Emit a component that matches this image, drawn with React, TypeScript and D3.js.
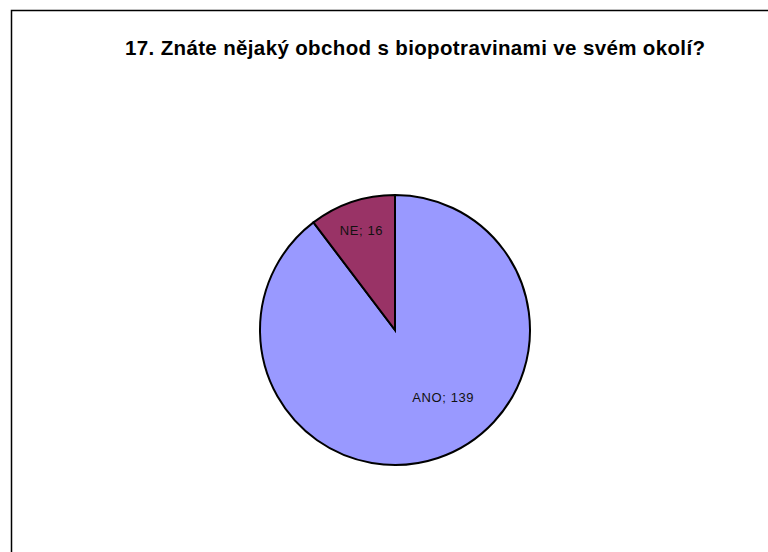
import React from "react";
import * as d3 from "d3";

const categories = ["ANO", "NE"];
const values = [139, 16];
const colors = ["#9999FF", "#993366"];
const title = "17. Znáte nějaký obchod s biopotravinami ve svém okolí?";

export default function App() {
  const W = 768, H = 552;
  const cx = 395, cy = 330, r = 135;
  const data = categories.map((c, i) => ({ c, v: values[i], col: colors[i] }));
  const pie = d3.pie<any>().value((d: any) => d.v).sort(null);
  const arcs = pie(data);
  const arc = d3.arc<any>().innerRadius(0).outerRadius(r);
  const labelRadius = [0.61, 0.78];
  const labelShift = [[22, -11], [0, 0]];
  return (
    <svg width={W} height={H} style={{ position: "absolute", left: 0, top: 0, background: "#fff" }}>
      <rect x={0} y={0} width={W} height={H} fill="#fff" />
      <path d={`M11.5,${H} L11.5,10.5 L${W},10.5`} fill="none" stroke="#000" strokeWidth={1.5} />
      <text x={125} y={55} fontFamily="Liberation Sans, Arial, sans-serif" fontWeight="bold" fontSize={20.5}
        textLength={580} lengthAdjust="spacing" fill="#000">{title}</text>
      <g transform={`translate(${cx},${cy})`}>
        {arcs.map((a, i) => (
          <path key={i} d={arc(a) as string} fill={a.data.col} stroke="#000" strokeWidth={2} />
        ))}
        {arcs.map((a, i) => {
          const la = d3.arc<any>().innerRadius(r * labelRadius[i]).outerRadius(r * labelRadius[i]);
          const [lx, ly] = la.centroid(a);
          return (
            <text key={"t" + i} x={lx + labelShift[i][0]} y={ly + labelShift[i][1]} textAnchor="middle" dominantBaseline="central"
              fontFamily="Liberation Sans, Arial, sans-serif" fontSize={13} letterSpacing={0.6} fill="#111">
              {`${a.data.c}; ${a.data.v}`}
            </text>
          );
        })}
      </g>
    </svg>
  );
}
